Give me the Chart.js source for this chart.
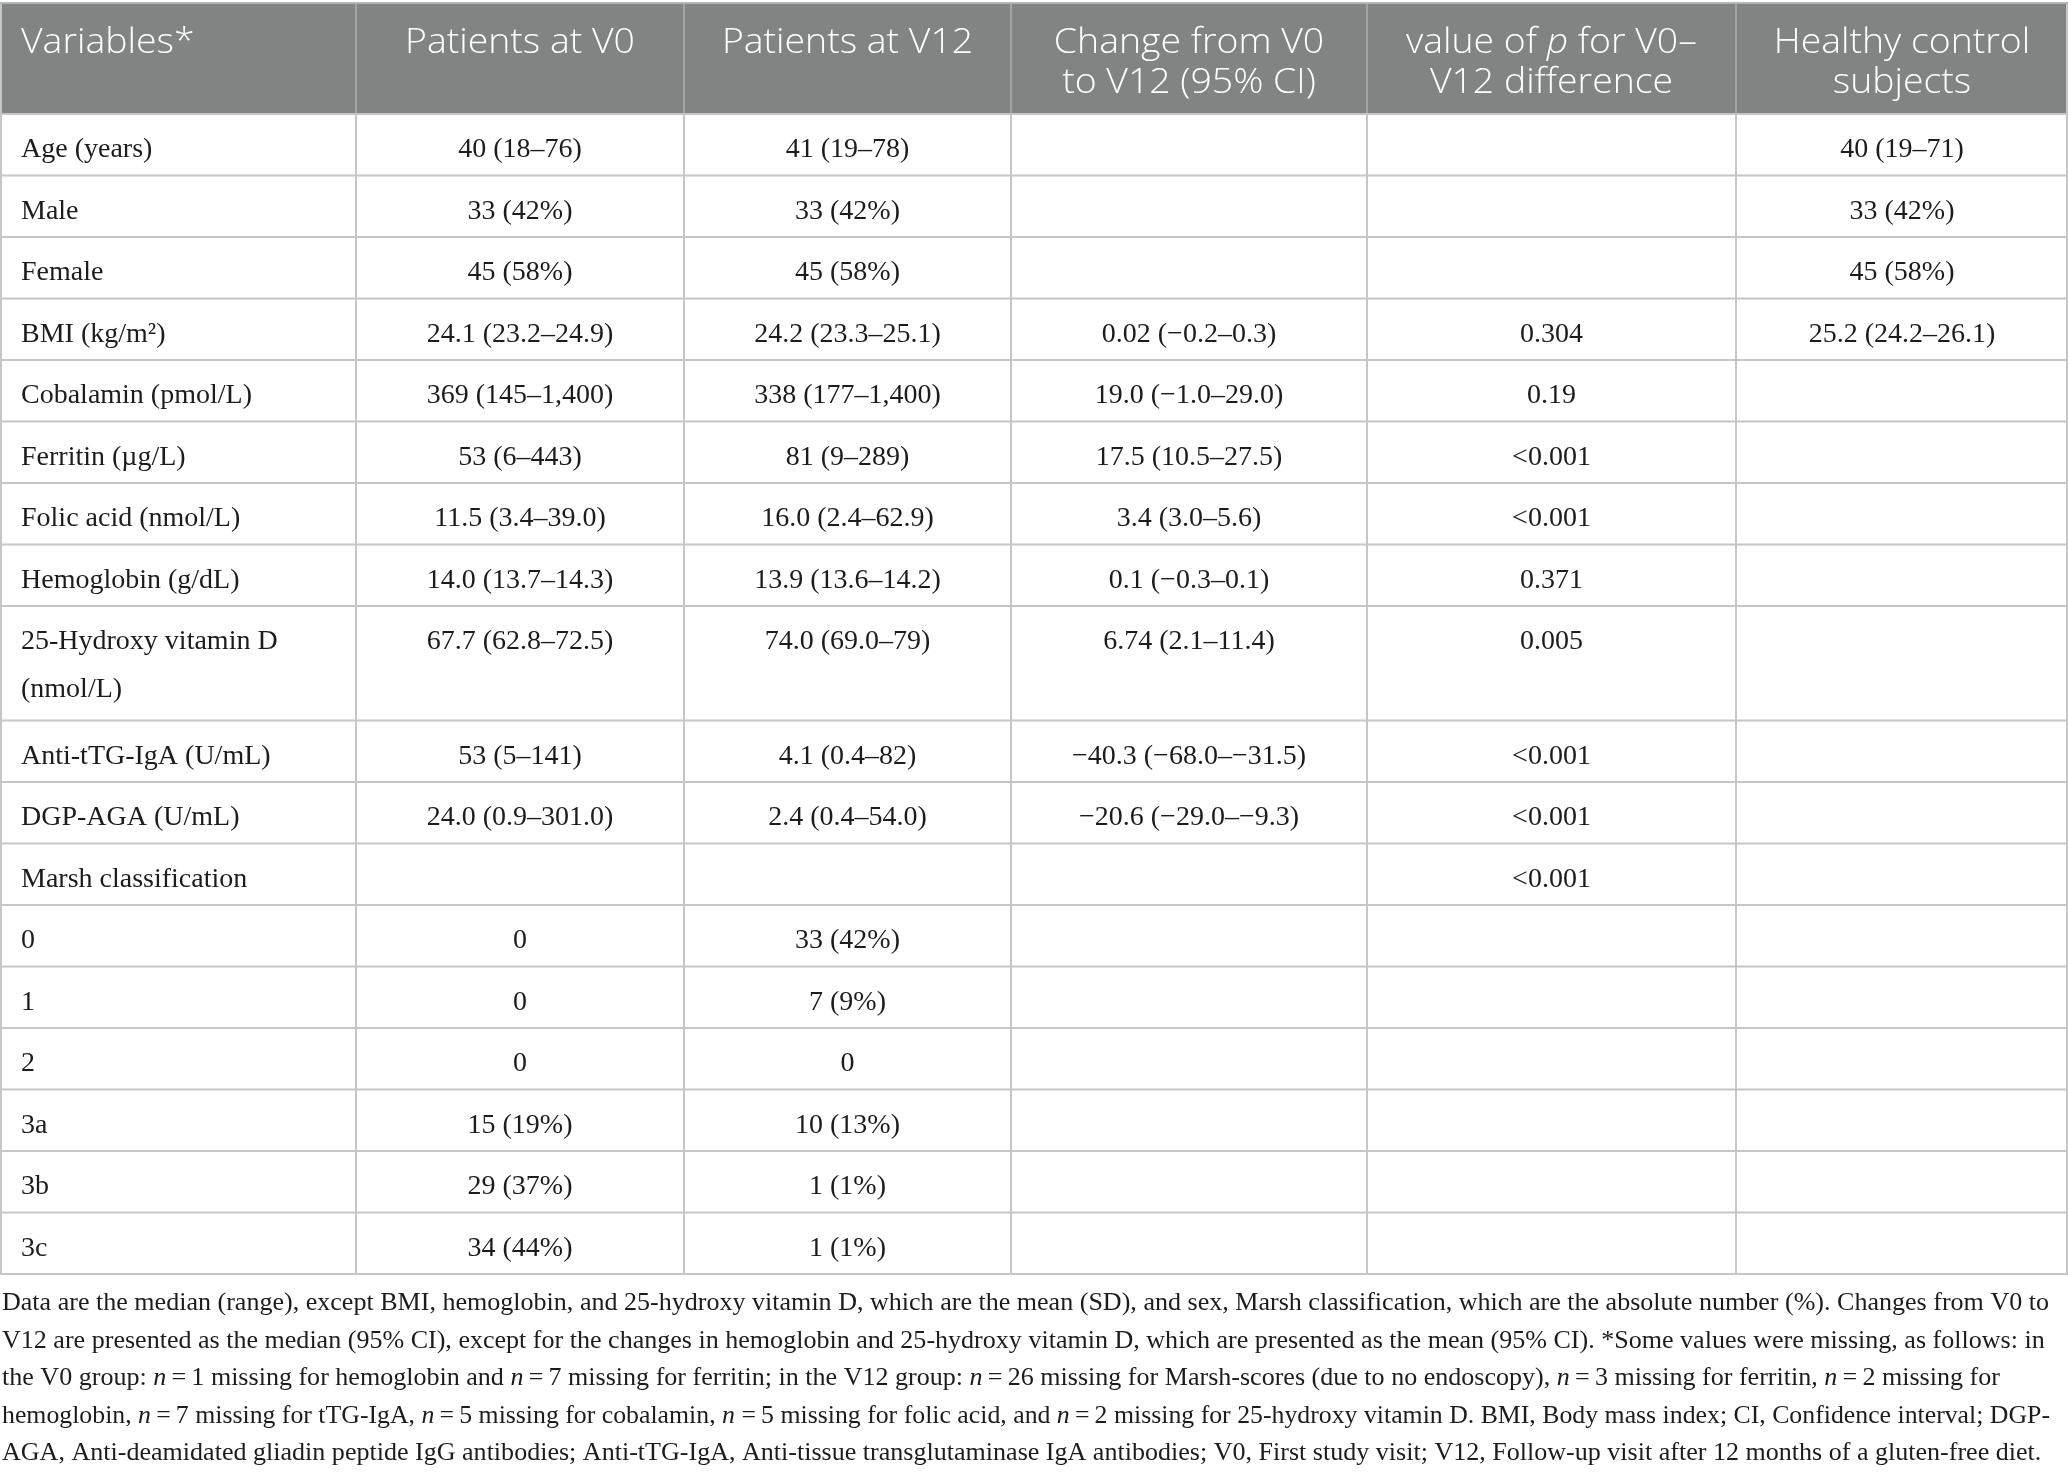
<!DOCTYPE html>
<html>
<head>
<meta charset="utf-8">
<script src="https://cdn.jsdelivr.net/npm/chart.js@4.4.1/dist/chart.umd.min.js"></script>
<style>
  html, body { margin: 0; padding: 0; background: #ffffff; }
  #wrap { width: 2068px; height: 1475px; }
</style>
</head>
<body>
<div id="wrap"><canvas id="c" width="2068" height="1475"></canvas></div>
<script>
// ---------------- DATA ----------------
const columnHeaders = [
  ["Variables*"],
  ["Patients at V0"],
  ["Patients at V12"],
  ["Change from V0", "to V12 (95% CI)"],
  ["value of _p_ for V0–", "V12 difference"],
  ["Healthy control", "subjects"]
];
const variables = [
  ["Age (years)"], ["Male"], ["Female"], ["BMI (kg/m²)"], ["Cobalamin (pmol/L)"],
  ["Ferritin (µg/L)"], ["Folic acid (nmol/L)"], ["Hemoglobin (g/dL)"],
  ["25-Hydroxy vitamin D", "(nmol/L)"], ["Anti-tTG-IgA (U/mL)"], ["DGP-AGA (U/mL)"],
  ["Marsh classification"], ["0"], ["1"], ["2"], ["3a"], ["3b"], ["3c"]
];
const patientsV0 = [
  "40 (18–76)", "33 (42%)", "45 (58%)", "24.1 (23.2–24.9)", "369 (145–1,400)",
  "53 (6–443)", "11.5 (3.4–39.0)", "14.0 (13.7–14.3)", "67.7 (62.8–72.5)",
  "53 (5–141)", "24.0 (0.9–301.0)", "", "0", "0", "0", "15 (19%)", "29 (37%)", "34 (44%)"
];
const patientsV12 = [
  "41 (19–78)", "33 (42%)", "45 (58%)", "24.2 (23.3–25.1)", "338 (177–1,400)",
  "81 (9–289)", "16.0 (2.4–62.9)", "13.9 (13.6–14.2)", "74.0 (69.0–79)",
  "4.1 (0.4–82)", "2.4 (0.4–54.0)", "", "33 (42%)", "7 (9%)", "0", "10 (13%)", "1 (1%)", "1 (1%)"
];
const changeV0V12 = [
  "", "", "", "0.02 (−0.2–0.3)", "19.0 (−1.0–29.0)", "17.5 (10.5–27.5)",
  "3.4 (3.0–5.6)", "0.1 (−0.3–0.1)", "6.74 (2.1–11.4)", "−40.3 (−68.0–−31.5)",
  "−20.6 (−29.0–−9.3)", "", "", "", "", "", "", ""
];
const pValues = [
  "", "", "", "0.304", "0.19", "<0.001", "<0.001", "0.371", "0.005", "<0.001",
  "<0.001", "<0.001", "", "", "", "", "", ""
];
const healthyControls = [
  "40 (19–71)", "33 (42%)", "45 (58%)", "25.2 (24.2–26.1)", "", "", "", "", "",
  "", "", "", "", "", "", "", "", ""
];
const footnoteLines = [
  "Data are the median (range), except BMI, hemoglobin, and 25-hydroxy vitamin D, which are the mean (SD), and sex, Marsh classification, which are the absolute number (%). Changes from V0 to",
  "V12 are presented as the median (95% CI), except for the changes in hemoglobin and 25-hydroxy vitamin D, which are presented as the mean (95% CI). *Some values were missing, as follows: in",
  "the V0 group: _n_\u2009=\u20091 missing for hemoglobin and _n_\u2009=\u20097 missing for ferritin; in the V12 group: _n_\u2009=\u200926 missing for Marsh-scores (due to no endoscopy), _n_\u2009=\u20093 missing for ferritin, _n_\u2009=\u20092 missing for",
  "hemoglobin, _n_\u2009=\u20097 missing for tTG-IgA, _n_\u2009=\u20095 missing for cobalamin, _n_ =\u20095 missing for folic acid, and _n_\u2009=\u20092 missing for 25-hydroxy vitamin D. BMI, Body mass index; CI, Confidence interval; DGP-",
  "AGA, Anti-deamidated gliadin peptide IgG antibodies; Anti-tTG-IgA, Anti-tissue transglutaminase IgA antibodies; V0, First study visit; V12, Follow-up visit after 12 months of a gluten-free diet."
];

// ---------------- LAYOUT ----------------
const W = 2068, H = 1475;
const COL_EDGES = [0, 356, 684, 1011, 1367, 1736, 2068];
const HEADER_TOP = 4, HEADER_BOTTOM = 114;
const ROW_H = 61.5, EXTRA_LINE_H = 53;
const BODY_FONT = '"Liberation Serif", "DejaVu Serif", serif';
const HEAD_FONT = '"Open Sans", "Noto Sans", sans-serif';
const BODY_SIZE = 28, HEAD_SIZE = 34, HEAD_HSCALE = 1.1;
const FOOT_SIZE = 25, FOOT_TOP_BASELINE = 1310, FOOT_LINE_H = 37.5, FOOT_RIGHT = 2049, FOOT_MAX_RIGHT = 2050;

function fontStr(italic, weight, size, family) {
  return (italic ? 'italic ' : '') + (weight || 400) + ' ' + size + 'px ' + family;
}
function drawRich(ctx, text, x, y, align, size, family, color, hScale, weight) {
  const parts = text.split('_');
  ctx.fillStyle = color;
  ctx.textBaseline = 'alphabetic';
  ctx.textAlign = 'left';
  let total = 0;
  const widths = parts.map((p, i) => {
    ctx.font = fontStr(i % 2, weight, size, family);
    const w = ctx.measureText(p).width;
    total += w;
    return w;
  });
  let start = x;
  if (align === 'center') start = x - total * hScale / 2;
  ctx.save();
  ctx.translate(start, y);
  ctx.scale(hScale, 1);
  let cx = 0;
  parts.forEach((p, i) => {
    ctx.font = fontStr(i % 2, weight, size, family);
    ctx.fillText(p, cx, 0);
    cx += widths[i];
  });
  ctx.restore();
  return total;
}
function richWidth(ctx, text, size, family, weight) {
  let t = 0;
  text.split('_').forEach((p, i) => {
    ctx.font = fontStr(i % 2, weight, size, family);
    t += ctx.measureText(p).width;
  });
  return t;
}

const tablePlugin = {
  id: 'tablePlugin',
  beforeDraw(chart) {
    const ctx = chart.ctx;
    ctx.save();
    ctx.fillStyle = '#ffffff';
    ctx.fillRect(0, 0, chart.width, chart.height);
    ctx.restore();
  },
  afterDraw(chart) {
    const ctx = chart.ctx;
    const xs = chart.scales.x, ys = chart.scales.y;
    const X = v => xs.getPixelForValue(v);
    const Y = v => ys.getPixelForValue(v);

    const rowTops = [];
    let yy = HEADER_BOTTOM;
    variables.forEach(v => { rowTops.push(yy); yy += ROW_H + (v.length - 1) * EXTRA_LINE_H; });
    const tableBottom = yy;

    ctx.save();
    ctx.fillStyle = '#818483';
    ctx.fillRect(X(0), Y(HEADER_TOP), X(W) - X(0), Y(HEADER_BOTTOM) - Y(HEADER_TOP));
    ctx.fillStyle = '#b4b6b5';
    ctx.fillRect(X(0), Y(HEADER_TOP) - 2, X(W) - X(0), 2);
    ctx.fillStyle = '#a2a4a3';
    COL_EDGES.slice(1, -1).forEach(e => ctx.fillRect(X(e) - 1, Y(HEADER_TOP), 2, Y(HEADER_BOTTOM) - Y(HEADER_TOP)));

    ctx.fillStyle = '#c6c6c6';
    rowTops.concat([tableBottom]).forEach(t => ctx.fillRect(X(0), Y(t) - 1, X(W) - X(0), 2));
    COL_EDGES.forEach((e, i) => {
      let px = X(e) - 1;
      if (i === 0) px = X(e);
      if (i === COL_EDGES.length - 1) px = X(e) - 2;
      ctx.fillRect(px, Y(HEADER_BOTTOM), 2, Y(tableBottom) - Y(HEADER_BOTTOM));
    });
    ctx.fillRect(X(0), Y(HEADER_TOP), 2, Y(HEADER_BOTTOM) - Y(HEADER_TOP));
    ctx.fillRect(X(W) - 2, Y(HEADER_TOP), 2, Y(HEADER_BOTTOM) - Y(HEADER_TOP));

    columnHeaders.forEach((lines, c) => {
      lines.forEach((ln, k) => {
        const base = Y(HEADER_TOP + 49 + k * 40);
        if (c === 0) drawRich(ctx, ln, X(COL_EDGES[0] + 21), base, 'left', HEAD_SIZE, HEAD_FONT, '#ffffff', HEAD_HSCALE, 300);
        else drawRich(ctx, ln, X((COL_EDGES[c] + COL_EDGES[c + 1]) / 2), base, 'center', HEAD_SIZE, HEAD_FONT, '#ffffff', HEAD_HSCALE, 300);
      });
    });

    const cols = [patientsV0, patientsV12, changeV0V12, pValues, healthyControls];
    variables.forEach((lines, r) => {
      const top = rowTops[r];
      lines.forEach((ln, k) => {
        drawRich(ctx, ln, X(COL_EDGES[0] + 21), Y(top + 43 + k * 48), 'left', BODY_SIZE, BODY_FONT, '#1c1c1c', 1);
      });
      cols.forEach((arr, c) => {
        const txt = arr[r];
        if (!txt) return;
        drawRich(ctx, txt, X((COL_EDGES[c + 1] + COL_EDGES[c + 2]) / 2), Y(top + 43), 'center', BODY_SIZE, BODY_FONT, '#1c1c1c', 1);
      });
    });

    const w0 = richWidth(ctx, footnoteLines[0], FOOT_SIZE, BODY_FONT);
    const fScale = (FOOT_RIGHT - 2) / w0;
    footnoteLines.forEach((ln, i) => {
      const wl = richWidth(ctx, ln, FOOT_SIZE, BODY_FONT);
      const s = Math.min(fScale, (FOOT_MAX_RIGHT - 2) / wl);
      drawRich(ctx, ln, X(2), Y(FOOT_TOP_BASELINE + i * FOOT_LINE_H), 'left', FOOT_SIZE, BODY_FONT, '#1c1c1c', s);
    });
    ctx.restore();
  }
};

new Chart(document.getElementById('c'), {
  type: 'scatter',
  data: { datasets: [{ data: [], pointRadius: 0 }] },
  options: {
    responsive: false,
    devicePixelRatio: 1,
    animation: false,
    layout: { padding: 0 },
    plugins: { legend: { display: false }, tooltip: { enabled: false } },
    scales: {
      x: { type: 'linear', min: 0, max: W, display: false },
      y: { type: 'linear', min: 0, max: H, reverse: true, display: false }
    }
  },
  plugins: [tablePlugin]
});
</script>
</body>
</html>
